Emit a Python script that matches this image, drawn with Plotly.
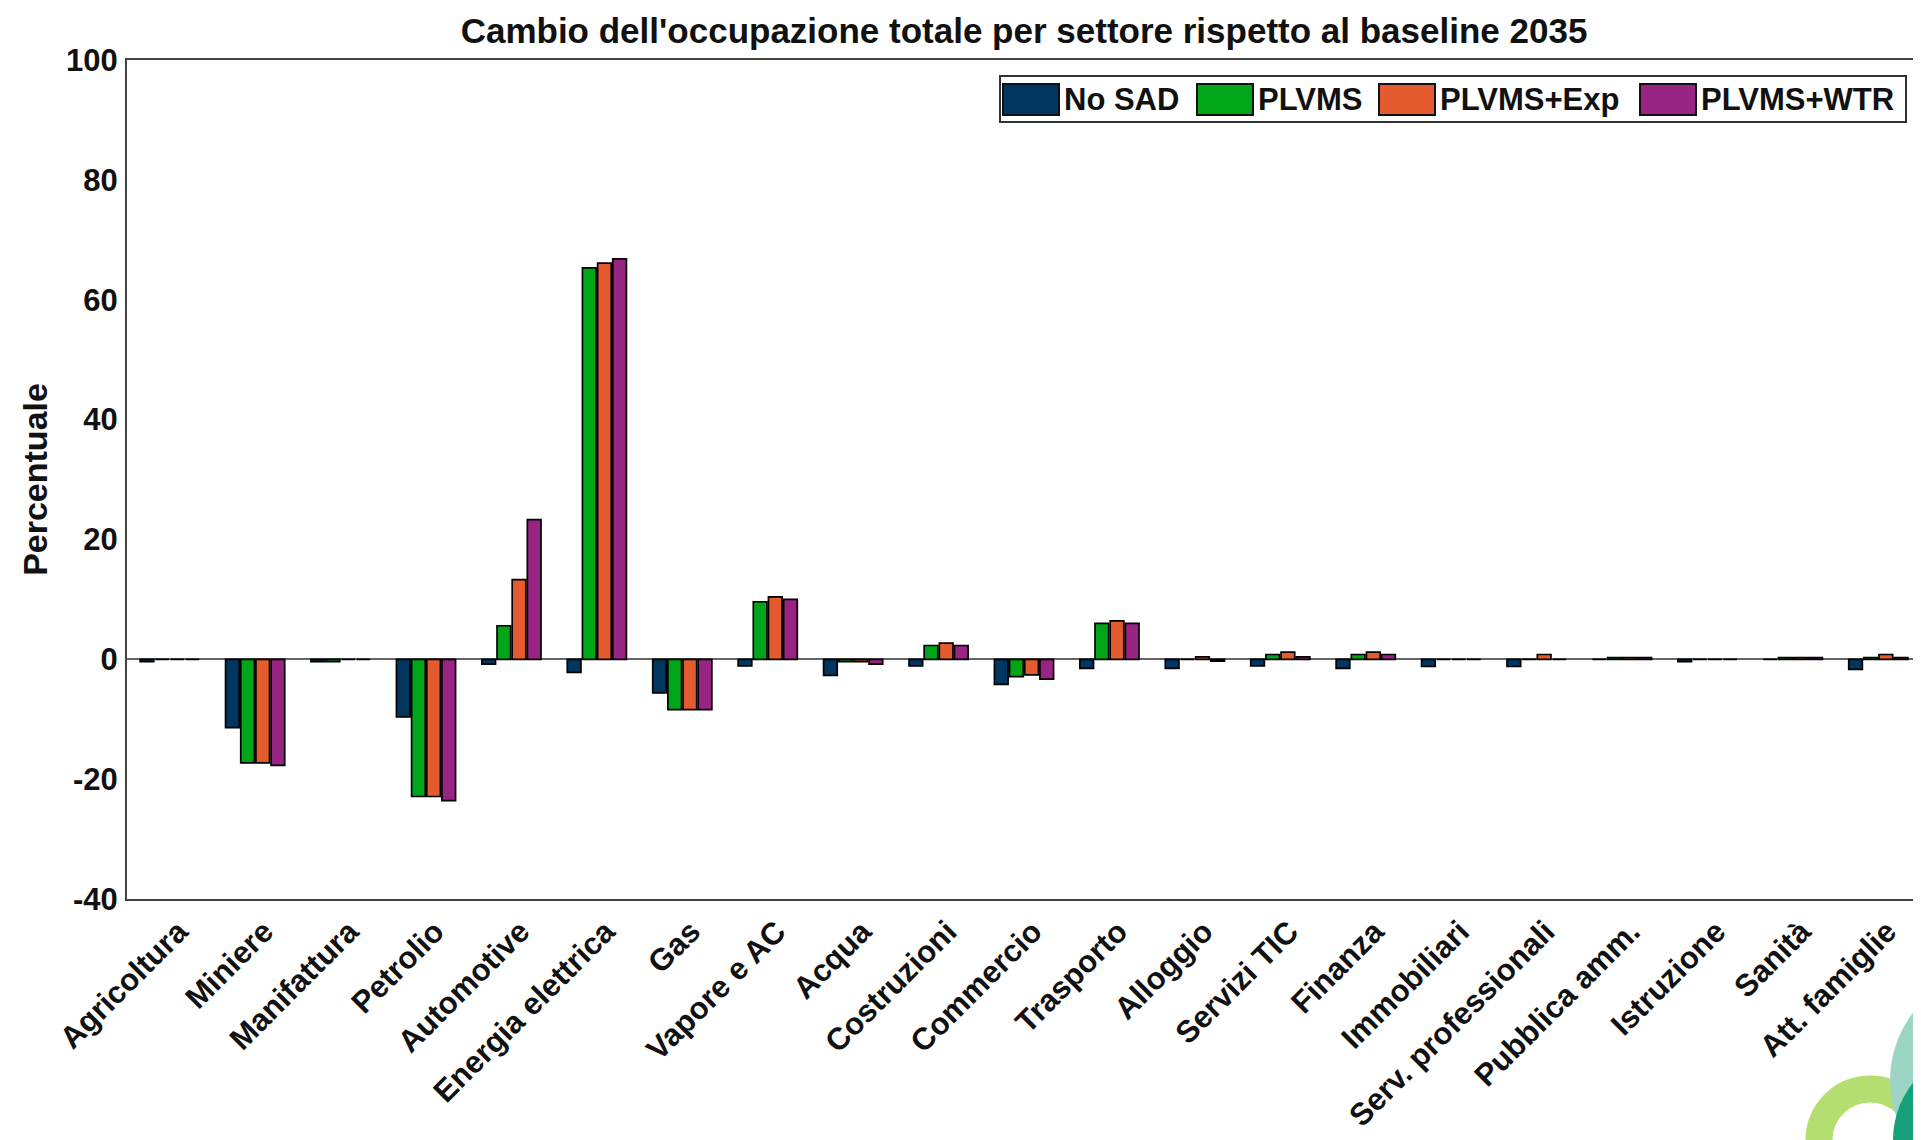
import plotly.graph_objects as go

categories = ["Agricoltura", "Miniere", "Manifattura", "Petrolio", "Automotive",
              "Energia elettrica", "Gas", "Vapore e AC", "Acqua", "Costruzioni",
              "Commercio", "Trasporto", "Alloggio", "Servizi TIC", "Finanza",
              "Immobiliari", "Serv. professionali", "Pubblica amm.", "Istruzione",
              "Sanità", "Att. famiglie"]

series_names = ["No SAD", "PLVMS", "PLVMS+Exp", "PLVMS+WTR"]

no_sad = [-0.4, -11.4, -0.4, -9.6, -0.8, -2.2, -5.6, -1.1, -2.7, -1.1, -4.2,
          -1.5, -1.5, -1.1, -1.5, -1.2, -1.2, 0.0, -0.4, 0.0, -1.7]
plvms = [0.0, -17.3, -0.4, -22.9, 5.6, 65.3, -8.4, 9.6, -0.4, 2.3, -2.9,
         6.0, 0.0, 0.8, 0.8, 0.0, 0.0, 0.3, 0.0, 0.3, 0.3]
plvms_exp = [0.0, -17.3, 0.0, -22.9, 13.3, 66.1, -8.4, 10.4, -0.4, 2.7, -2.6,
             6.4, 0.4, 1.2, 1.2, 0.0, 0.8, 0.3, 0.0, 0.3, 0.8]
plvms_wtr = [0.0, -17.7, 0.0, -23.6, 23.3, 66.8, -8.4, 10.0, -0.8, 2.3, -3.3,
             6.0, -0.3, 0.4, 0.8, 0.0, 0.0, 0.3, 0.0, 0.3, 0.3]

series_values = [no_sad, plvms, plvms_exp, plvms_wtr]
colors = ["#003660", "#00A51A", "#E45B2F", "#982584"]

y_ticks = [-40, -20, 0, 20, 40, 60, 80, 100]
y_tick_labels = ["-40", "-20", "0", "20", "40", "60", "80", "100"]

# page offset of the figure (default body margin)
OFF = 8
SCR_W, SCR_H = 1921, 1140
W, H = SCR_W - OFF, SCR_H - OFF
# plot area in screen pixels
L, R, T, B = 127, 1921, 60, 899
FONT = "Liberation Sans, Arial, Helvetica, sans-serif"

def px(xp):
    return (xp - L) / (R - L)

def py(yp):
    return (B - yp) / (B - T)

fig = go.Figure()
for name, vals, col in zip(series_names, series_values, colors):
    fig.add_trace(go.Bar(x=categories, y=vals, name=name, showlegend=False,
                         marker=dict(color=col, line=dict(color="#000000", width=1.7))))

shapes = []
annotations = []

# custom legend (box, swatches, labels)
shapes.append(dict(type="rect", xref="paper", yref="paper",
                   x0=px(1000), x1=px(1906), y0=py(76), y1=py(122),
                   line=dict(color="#333333", width=2), fillcolor="white", layer="above"))
sw_x = [1003, 1197, 1379, 1640]
sw_w = 56
for name, col, sx in zip(series_names, colors, sw_x):
    shapes.append(dict(type="rect", xref="paper", yref="paper",
                       x0=px(sx), x1=px(sx + sw_w), y0=py(84), y1=py(115),
                       line=dict(color="#111111", width=2), fillcolor=col, layer="above"))
    annotations.append(dict(text=name, xref="paper", yref="paper",
                            x=px(sx + sw_w + 3), y=py(100), xanchor="left", yanchor="middle",
                            showarrow=False,
                            font=dict(family=FONT, size=31, color="#111111", weight="bold")))

# decorative logo in bottom-right corner
shapes.append(dict(type="circle", xref="paper", yref="paper",
                   x0=px(1870 - 51), x1=px(1870 + 51), y0=py(1140 + 51), y1=py(1140 - 51),
                   line=dict(color="#B4DE70", width=27), fillcolor="rgba(0,0,0,0)", layer="above"))
shapes.append(dict(type="circle", xref="paper", yref="paper",
                   x0=px(2000 - 110), x1=px(2000 + 110), y0=py(1080 + 110), y1=py(1080 - 110),
                   line=dict(width=0), fillcolor="#9DD5C4", layer="above"))
shapes.append(dict(type="circle", xref="paper", yref="paper",
                   x0=px(1985 - 92), x1=px(1985 + 92), y0=py(1140 + 92), y1=py(1140 - 92),
                   line=dict(width=0), fillcolor="#15A07A", layer="above"))
shapes.append(dict(type="circle", xref="paper", yref="paper",
                   x0=px(1945 - 50), x1=px(1945 + 50), y0=py(1178 + 50), y1=py(1178 - 50),
                   line=dict(width=0), fillcolor="#37AE9B", layer="above"))

fig.update_layout(
    width=W, height=H, autosize=False,
    margin=dict(l=L - OFF, r=0, t=T - OFF, b=H - (B - OFF), pad=0),
    paper_bgcolor="white", plot_bgcolor="white",
    barmode="group", bargap=0.29, bargroupgap=0.1,
    font=dict(family=FONT, color="#111111"),
    title=dict(text="Cambio dell'occupazione totale per settore rispetto al baseline 2035",
               x=((L + R) / 2 - OFF) / W, xanchor="center", xref="container",
               y=1 - (31 - OFF) / H, yanchor="middle", yref="container",
               font=dict(family=FONT, size=35, color="#111111", weight="bold")),
    xaxis=dict(range=[-0.5, 20.5], showline=True, linecolor="#444444", linewidth=2,
               mirror=True, ticks="", tickangle=-45, showgrid=False, zeroline=False,
               ticklabelshift=9,
               tickfont=dict(family=FONT, size=31, color="#111111", weight="bold"),
               automargin=False),
    yaxis=dict(range=[-40, 100], tickvals=y_ticks, ticktext=y_tick_labels,
               showline=True, linecolor="#444444",
               linewidth=2, ticks="", showgrid=False, zeroline=True,
               zerolinecolor="#666666", zerolinewidth=2, ticklabelstandoff=1,
               tickfont=dict(family=FONT, size=31, color="#111111", weight="bold"),
               title=dict(text="Percentuale", standoff=8,
                          font=dict(family=FONT, size=34, color="#111111", weight="bold")),
               automargin=False),
    shapes=shapes, annotations=annotations,
)

fig.write_html("out.html")
